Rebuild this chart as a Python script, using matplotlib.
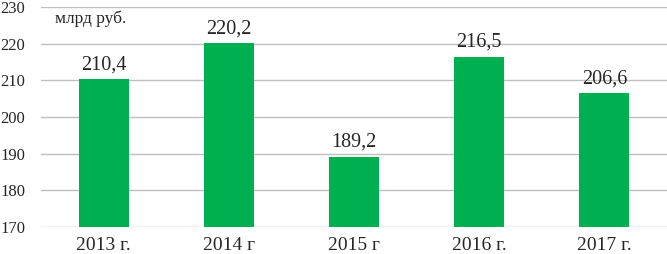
import matplotlib
matplotlib.use("Agg")
import matplotlib.pyplot as plt

years = ["2013 г.", "2014 г", "2015 г", "2016 г.", "2017 г."]
values = [210.4, 220.2, 189.2, 216.5, 206.6]
labels = ["210,4", "220,2", "189,2", "216,5", "206,6"]
yticks = [170, 180, 190, 200, 210, 220, 230]

plt.rcParams['font.family'] = ['Liberation Serif', 'DejaVu Serif']

fig = plt.figure(figsize=(6.67, 2.54), dpi=100)
ax = fig.add_axes([0.0615, 0.106, 0.9385, 0.866])

x = range(len(years))
ax.bar(x, values, width=0.4, color='#00B050', zorder=3)
for xi, v, lab in zip(x, values, labels):
    ax.text(xi, v + 1.3, lab, ha='center', va='bottom', fontsize=14.5, color='#262626')

ax.set_ylim(170, 230)
ax.set_xlim(-0.5, len(years) - 0.5)
ax.set_yticks(yticks)
ax.set_xticks(list(x))
ax.set_xticklabels(years)
ax.yaxis.grid(True, color='#BFBFBF', linewidth=1, zorder=0)
ax.tick_params(axis='x', length=0, labelsize=14, colors='#262626', pad=7)
ax.tick_params(axis='y', length=0, labelsize=12, colors='#262626', pad=11.5)
for s in ax.spines.values():
    s.set_visible(False)

ax.text(0.022, 0.985, "млрд руб.", transform=ax.transAxes, ha='left', va='top',
        fontsize=12.5, color='#262626')

fig.savefig("out.png", dpi=100)
